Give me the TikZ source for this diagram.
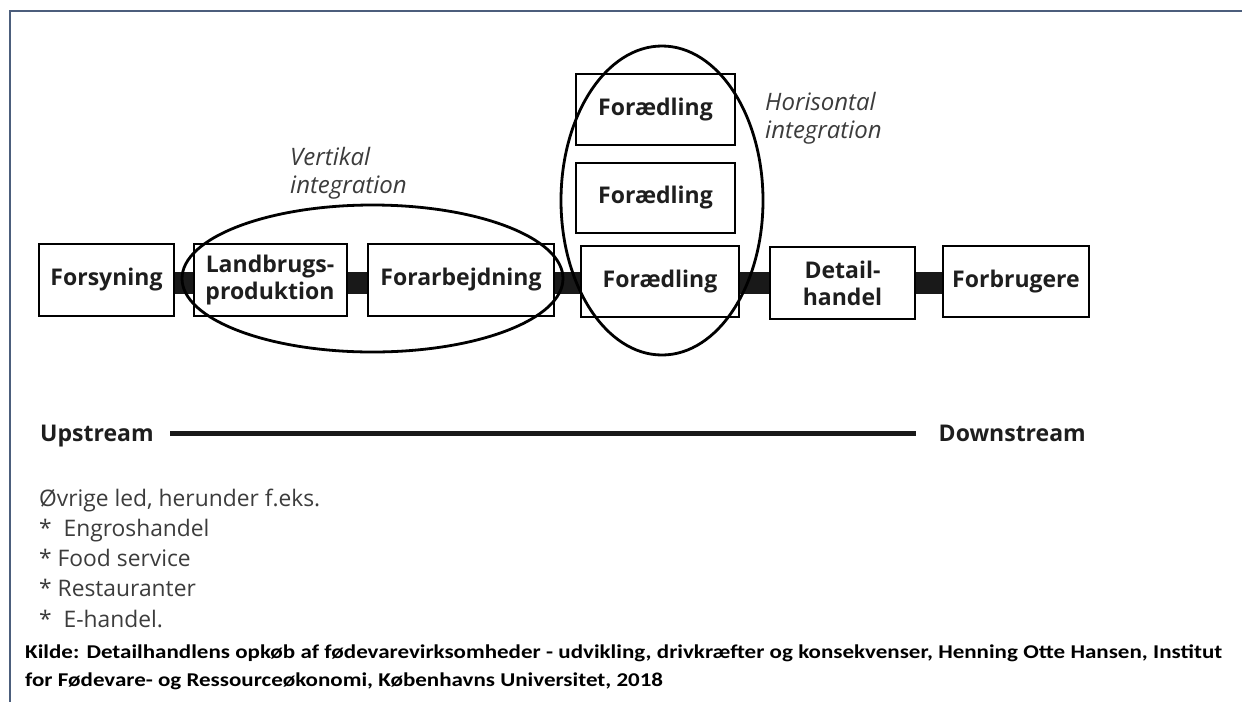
\documentclass[tikz,border=0pt]{standalone}
\usepackage{fontspec}
\usepackage{graphicx}
\setmainfont{Open Sans}
\newfontfamily\kildefont{Carlito}
\usetikzlibrary{shapes.geometric}
\definecolor{framec}{RGB}{76,94,124}
\definecolor{txt}{RGB}{30,30,30}
\definecolor{greytxt}{RGB}{60,60,60}
\begin{document}
\begin{tikzpicture}[x=1pt,y=-1pt,
  box/.style={draw, line width=2pt, fill=white, inner sep=0pt, text=txt,
    font=\fontsize{23}{27}\selectfont\bfseries, align=center},
  bar/.style={line width=22pt, draw=black!90},
  ring/.style={ellipse, draw, line width=2.8pt, inner sep=0pt},
  note/.style={font=\fontsize{24}{28}\selectfont\itshape, text=greytxt, align=left, inner sep=0pt},
  listtxt/.style={font=\fontsize{22.8}{30.25}\selectfont, text=greytxt, align=left, inner sep=0pt},
  stream/.style={font=\fontsize{23}{26}\selectfont\bfseries, text=txt, inner sep=0pt},
  frame/.style={draw=framec, line width=2.5pt}
]
\useasboundingbox (0,0) rectangle (1242,702);
\fill[white] (0,0) rectangle (1242,702);
\draw[frame] (1242,11) -- (10,11) -- (10,702);

\coordinate (bary) at (0,283);

\node[box, minimum width=135pt, minimum height=72pt] (fors) at (106.5,280) {Forsyning};
\node[box, minimum width=153pt, minimum height=72pt] (land) at (270,280) {Landbrugs-\\produktion};
\node[box, minimum width=186pt, minimum height=72pt] (forarb) at (461,280) {Forarbejdning};
\node[box, minimum width=159pt, minimum height=71pt] (fa) at (655.5,109.5) {Forædling};
\node[box, minimum width=159pt, minimum height=70pt] (fb) at (655.5,198) {Forædling};
\node[box, minimum width=158pt, minimum height=71pt] (fc) at (660,281.5) {Forædling};
\node[box, minimum width=145pt, minimum height=72pt] (detail) at (842.5,283) {Detail-\\handel};
\node[box, minimum width=146pt, minimum height=71pt] (forbr) at (1016,281.5) {Forbrugere};

\draw[bar] (fors.east |- bary) -- (land.west |- bary);
\draw[bar] (land.east |- bary) -- (forarb.west |- bary);
\draw[bar] (forarb.east |- bary) -- (fc.west |- bary);
\draw[bar] (fc.east |- bary) -- (detail.west |- bary);
\draw[bar] (detail.east |- bary) -- (forbr.west |- bary);

\node[ring, minimum width=381pt, minimum height=147pt] (vring) at (372.5,278.5) {};
\node[ring, minimum width=202pt, minimum height=309pt] (hring) at (662,200.5) {};

\node[note, anchor=base west] (vlab) at (290,193) {Vertikal\\integration};
\node[note, anchor=base west] (hlab) at (765,138) {Horisontal\\integration};

\coordinate (upend) at (170,433);
\coordinate (downend) at (916,433);
\node[stream, anchor=base west] (up) at (40,441) {Upstream};
\node[stream, anchor=base east] (down) at (1086,441) {Downstream};
\draw[line width=5pt, black!90] (upend) -- (downend);

\node[listtxt, anchor=base west] (list) at (39,627) {Øvrige led, herunder f.eks.\\*\ \ Engroshandel\\* Food service\\* Restauranter\\*\ \ E-handel.};

\node[anchor=base west, inner sep=0pt, font=\kildefont\fontsize{23}{28}\selectfont\bfseries, align=left] (kilde) at (25,686)
 {\scalebox{1}[0.85]{\makebox[1197pt][s]{Kilde: Detailhandlens opkøb af fødevarevirksomheder - udvikling, drivkræfter og konsekvenser, Henning Otte Hansen, Institut}}\\\scalebox{1}[0.85]{for Fødevare- og Ressourceøkonomi, Københavns Universitet, 2018}};
\end{tikzpicture}
\end{document}
